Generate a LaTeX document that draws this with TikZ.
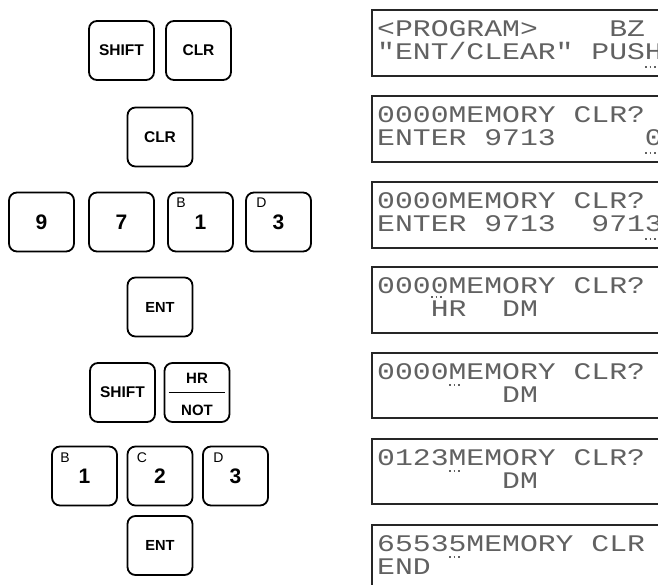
\documentclass[tikz,border=0pt]{standalone}
\usepackage{fontspec}
\setmainfont{Liberation Sans}
\newfontfamily\lcdfont[FakeStretch=1.25]{Liberation Mono}
\frenchspacing

\tikzset{
  key/.style={draw, line width=1.8pt, rounded corners=8pt, minimum width=65pt, minimum height=59pt, inner sep=0pt, font=\fontsize{15.5}{15.5}\selectfont\bfseries},
  keynum/.style={key, font=\fontsize{21}{21}\selectfont\bfseries},
  keyletter/.style={anchor=north west, inner sep=0pt, font=\fontsize{14}{14}\selectfont},
  keytext/.style={inner sep=0pt, font=\fontsize{15}{15}\selectfont\bfseries},
  lcd/.style={anchor=base west, inner sep=0pt, text=black!62, font=\lcdfont\fontsize{23.8}{24}\selectfont},
  lcdframe/.style={line width=1.6pt, black!85},
  cursor/.style={line width=1.6pt, black!62, dash pattern=on 1.6pt off 3pt}
}

\begin{document}
\begin{tikzpicture}[x=1pt,y=-1pt]
\useasboundingbox (0,0) rectangle (658,584);

% 按键（左列）
\node[key] (shiftA) at (121.5,50.5) {SHIFT};
\node[key] (clrA) at (198.5,50.5) {CLR};

\node[key] (clrB) at (160,137) {CLR};

\node[keynum] (nine) at (41.5,222) {9};
\node[keynum] (seven) at (121.5,222) {7};
\node[keynum] (oneA) at (200.5,222) {1};
\node[keynum] (threeA) at (278.5,222) {3};
\node[keyletter] (bA) at ([shift={(9pt,-6pt)}]oneA.north west) {B};
\node[keyletter] (dA) at ([shift={(11pt,-6pt)}]threeA.north west) {D};

\node[key, font=\fontsize{14.6}{15}\selectfont\bfseries] (entA) at (160,307) {ENT};

\node[key] (shiftB) at (122.5,392.5) {SHIFT};
\node[key] (hrnot) at (197,392.5) {};
\node[keytext] (hr) at (197,378.5) {HR};
\node[keytext] (not) at (197,410.5) {NOT};
\draw[line width=1.4pt] ([xshift=5pt]hrnot.west) -- ([xshift=-5pt]hrnot.east);

\node[keynum] (oneB) at (84.5,476) {1};
\node[keynum] (two) at (160,476) {2};
\node[keynum] (threeB) at (235.5,476) {3};
\node[keyletter] (bB) at ([shift={(9pt,-7pt)}]oneB.north west) {B};
\node[keyletter] (cB) at ([shift={(10pt,-7pt)}]two.north west) {C};
\node[keyletter] (dB) at ([shift={(11pt,-7pt)}]threeB.north west) {D};

\node[key, font=\fontsize{14.6}{15}\selectfont\bfseries] (entB) at (160,545.5) {ENT};

% 显示屏（右侧开口）
\draw[lcdframe] (660,10) -- (372,10) -- (372,76) -- (660,76);
\draw[lcdframe] (660,96) -- (372,96) -- (372,162) -- (660,162);
\draw[lcdframe] (660,182) -- (372,182) -- (372,248) -- (660,248);
\draw[lcdframe] (660,267) -- (372,267) -- (372,333) -- (660,333);
\draw[lcdframe] (660,353) -- (372,353) -- (372,418) -- (660,418);
\draw[lcdframe] (660,439) -- (372,439) -- (372,504) -- (660,504);
\draw[lcdframe] (660,525) -- (372,525) -- (372,590);

% 显示内容
\node[lcd] (lcdAa) at (377,36) {<PROGRAM>~~~~BZ};
\node[lcd] (lcdAb) at (377,59) {"ENT/CLEAR"~PUSH};

\node[lcd] (lcdBa) at (377,122) {0000MEMORY~CLR?};
\node[lcd] (lcdBb) at (377,145) {ENTER~9713~~~~~0};

\node[lcd] (lcdCa) at (377,208) {0000MEMORY~CLR?};
\node[lcd] (lcdCb) at (377,231) {ENTER~9713~~9713};

\node[lcd] (lcdDa) at (377,293) {0000MEMORY~CLR?};
\node[lcd] (lcdDb) at (377,316) {~~~HR~~DM};

\node[lcd] (lcdEa) at (377,379) {0000MEMORY~CLR?};
\node[lcd] (lcdEb) at (377,402) {~~~~~~~DM};

\node[lcd] (lcdFa) at (377,465) {0123MEMORY~CLR?};
\node[lcd] (lcdFb) at (377,488) {~~~~~~~DM};

\node[lcd] (lcdGa) at (377,551) {65535MEMORY~CLR};
\node[lcd] (lcdGb) at (377,574) {END};

% 光标
\draw[cursor] (645,67) -- (657,67);
\draw[cursor] (645,153) -- (657,153);
\draw[cursor] (645,239) -- (657,239);
\draw[cursor] (431,297) -- (443,297);
\draw[cursor] (449,385) -- (461,385);
\draw[cursor] (449,471) -- (461,471);
\draw[cursor] (449,557) -- (461,557);

\end{tikzpicture}
\end{document}
